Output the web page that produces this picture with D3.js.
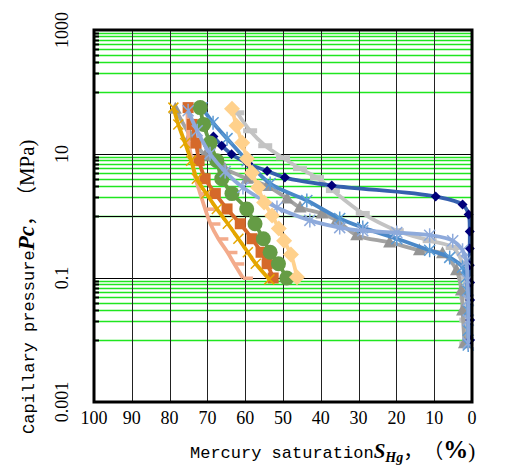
<!DOCTYPE html>
<html>
<head>
<meta charset="utf-8">
<script src="https://cdn.jsdelivr.net/npm/d3@7"></script>
<style>
  html, body { margin: 0; padding: 0; background: #fff; }
  svg { display: block; }
  svg text { text-spacing-trim: space-all; }
</style>
</head>
<body>
<svg id="chart" width="511" height="468"></svg>
<script>
// Mercury injection capillary pressure curves: saturation (%) vs pressure (MPa)
const xTicks = [100, 90, 80, 70, 60, 50, 40, 30, 20, 10, 0];
const yTickLabels = [1000, 10, 0.1, 0.001];
const yLabelText = ["1000", "10", "0.1", "0.001"];

// pressure steps shared by several samples
const stepP = [56, 30, 15, 7.8, 4, 2.3, 1.3, 0.75, 0.43, 0.26, 0.17, 0.1];

const navyS = [68.4, 66.2, 63.6, 59.2, 54.2, 49.5, 37.1, 9.6, 2.5, 0.9, 0.6, 0.6, 0.6, 0.5, 0.5, 0.5, 0.5];
const navyP = [19.2, 13.6, 9.9, 7.0, 5.3, 4.16, 3.1, 2.06, 1.53, 1.06, 0.56, 0.30, 0.16, 0.085, 0.044, 0.021, 0.010];

const steelS = [71.4, 68.5, 64.8, 59.5, 53.4, 43.7, 35.0, 28.9, 19.9, 11.2, 5.9, 2.5, 1.5, 1.2, 1.0, 1.0, 1.0];
const steelP = [55.6, 31.9, 17.7, 7.8, 3.33, 1.78, 0.91, 0.65, 0.43, 0.28, 0.215, 0.149, 0.103, 0.063, 0.030, 0.0144, 0.0083];

const grayS = [78.5, 74.5, 70.6, 65.4, 59.5, 54.2, 48.9, 45.5, 39.7, 35.8, 30.5, 21.8, 13.9, 7.8, 4.1, 2.8, 2.5, 2.0];
const grayP = [53.6, 19.7, 9.4, 5.8, 4.0, 3.04, 1.91, 1.37, 1.10, 0.85, 0.49, 0.375, 0.28, 0.25, 0.133, 0.063, 0.030, 0.0089];

const silverS = [62.1, 58.7, 54.7, 50.0, 45.5, 41.0, 36.8, 28.9, 19.9, 11.2, 5.1, 2.5, 2.0, 1.5, 1.5, 1.5];
const silverP = [46.2, 23.7, 13.6, 8.7, 5.8, 4.16, 2.57, 1.10, 0.58, 0.40, 0.31, 0.172, 0.103, 0.049, 0.021, 0.0089];

const paleBlueS = [75.1, 72.7, 69.3, 65.3, 60.6, 51.6, 42.9, 35.0, 28.9, 19.9, 11.2, 5.1, 2.5, 1.5, 1.2, 1.0, 1.0, 1.0];
const paleBlueP = [49.8, 23.7, 10.1, 5.2, 2.88, 1.37, 0.85, 0.65, 0.58, 0.54, 0.49, 0.40, 0.28, 0.19, 0.092, 0.044, 0.021, 0.0089];

const goldS = [79.0, 77.7, 75.9, 74.3, 72.8, 70.3, 67.5, 64.6, 61.8, 59.3, 57.2, 53.6];
const goldP = [56, 30, 15, 7.8, 4, 2.3, 1.3, 0.75, 0.43, 0.26, 0.17, 0.095];

const salmonS = [75.3, 75.2, 74.9, 74.1, 73.1, 71.9, 70.6, 69.2, 67.1, 64.7, 62.9, 60.6];
const orangeS = [75.1, 74.0, 73.0, 72.2, 70.6, 67.9, 64.8, 61.3, 58.2, 55.8, 54.2, 52.6];
const greenS = [71.9, 71.0, 69.3, 67.5, 66.2, 63.5, 59.6, 57.4, 55.2, 53.4, 51.2, 49.0];

const peachS = [63.5, 62.3, 60.8, 59.5, 58.2, 56.6, 55.0, 52.9, 51.1, 49.7, 47.9, 46.3];
const peachP = [53.6, 28.6, 15.2, 8.4, 5.0, 2.88, 1.65, 1.02, 0.63, 0.40, 0.24, 0.103];

const svg = d3.select("#chart");
const plotL = 94, plotR = 472, plotT = 30, plotB = 402;

const x = d3.scaleLinear().domain([100, 0]).range([plotL, plotR]);
const y = d3.scaleLog().domain([0.001, 1000]).range([plotB, plotT]);

// ---- grid ----
const grid = svg.append("g");
// green minor lines in alternating decades
const greenVals = [];
[2, 0, -2].forEach(e => { for (let k = 1; k <= 9; k++) greenVals.push(k * Math.pow(10, e)); });
grid.selectAll("line.minor").data(greenVals).join("line")
  .attr("x1", plotL).attr("x2", plotR)
  .attr("y1", d => Math.round(y(d)) + 0.5).attr("y2", d => Math.round(y(d)) + 0.5)
  .attr("stroke", "#1fe61f").attr("stroke-width", 1.3);
// black major lines
grid.selectAll("line.major").data([10, 1, 0.1]).join("line")
  .attr("x1", plotL).attr("x2", plotR)
  .attr("y1", d => Math.round(y(d)) + 0.5).attr("y2", d => Math.round(y(d)) + 0.5)
  .attr("stroke", "#000").attr("stroke-width", 1);
// vertical lines
grid.selectAll("line.v").data(xTicks.slice(1, -1)).join("line")
  .attr("x1", d => Math.round(x(d)) + 0.5).attr("x2", d => Math.round(x(d)) + 0.5)
  .attr("y1", plotT).attr("y2", plotB)
  .attr("stroke", "#222").attr("stroke-width", 1);

// ---- series ----
const series = [
  { s: silverS, p: silverP, line: "#c3c3c3", mark: "dashWide", color: "#c3c3c3" },
  { s: grayS, p: grayP, line: "#a3a3a3", mark: "triangle", color: "#959595" },
  { s: steelS, p: steelP, line: "#4a88c8", mark: "asterisk", color: "#5b9bd5" },
  { s: navyS, p: navyP, line: "#3560ae", mark: "diamondSmall", color: "#00007a" },
  { s: salmonS, p: stepP, line: "#f3ab8b", mark: "dash", color: "#f3ab8b" },
  { s: orangeS, p: stepP, line: "#d5692a", mark: "square", color: "#d5692a" },
  { s: goldS, p: goldP, line: "#e4a600", mark: "x", color: "#e4a600" },
  { s: greenS, p: stepP, line: "#659c45", mark: "circle", color: "#659c45" },
  { s: paleBlueS, p: paleBlueP, line: "#8eaadb", mark: "asterisk", color: "#8eaadb" },
  { s: peachS, p: peachP, line: "#ffd18c", mark: "diamond", color: "#ffd18c" }
];

const line = d3.line().x(d => x(d[0])).y(d => y(d[1])).curve(d3.curveCatmullRom.alpha(0.5));
const plot = svg.append("g");

function drawMarker(g, kind, color) {
  switch (kind) {
    case "circle":
      g.append("circle").attr("r", 7.5).attr("fill", color); break;
    case "square":
      g.append("rect").attr("x", -5.5).attr("y", -5.5).attr("width", 11).attr("height", 11).attr("fill", color); break;
    case "diamond":
      g.append("path").attr("d", "M0,-8L8,0L0,8L-8,0Z").attr("fill", color); break;
    case "diamondSmall":
      g.append("path").attr("d", "M0,-5L5,0L0,5L-5,0Z").attr("fill", color); break;
    case "triangle":
      g.append("path").attr("d", "M0,-7L6.5,5L-6.5,5Z").attr("fill", color); break;
    case "dash":
      g.append("rect").attr("x", 0).attr("y", -1.5).attr("width", 10).attr("height", 3.5).attr("fill", color); break;
    case "dashWide":
      g.append("rect").attr("x", -7).attr("y", -2.5).attr("width", 14).attr("height", 5).attr("fill", color); break;
    case "x":
      g.append("path").attr("d", "M-5,-5L5,5M-5,5L5,-5").attr("stroke", color).attr("stroke-width", 1.5); break;
    case "asterisk":
      g.append("path").attr("d", "M-5.5,-5.5L5.5,5.5M-5.5,5.5L5.5,-5.5M0,-7L0,7").attr("stroke", color).attr("stroke-width", 1.5); break;
  }
}

series.forEach(sr => {
  const pts = sr.s.map((v, i) => [v, sr.p[i]]);
  const g = plot.append("g");
  g.append("path").attr("d", line(pts)).attr("fill", "none")
    .attr("stroke", sr.line).attr("stroke-width", 3.8).attr("stroke-linejoin", "round");
  pts.forEach(pt => {
    const m = g.append("g").attr("transform", `translate(${x(pt[0])},${y(pt[1])})`);
    drawMarker(m, sr.mark, sr.color);
  });
});

// ---- frame and ticks ----
svg.append("rect").attr("x", plotL).attr("y", plotT).attr("width", plotR - plotL).attr("height", plotB - plotT)
  .attr("fill", "none").attr("stroke", "#000").attr("stroke-width", 3);
svg.selectAll("line.tick").data(greenVals).join("line")
  .attr("x1", plotL).attr("x2", plotL + 5)
  .attr("y1", d => Math.round(y(d)) + 0.5).attr("y2", d => Math.round(y(d)) + 0.5)
  .attr("stroke", "#000").attr("stroke-width", 2);

// ---- axis labels ----
const serif = "'Liberation Serif', 'Times New Roman', serif";
const mono = "'Liberation Mono', 'DejaVu Sans Mono', monospace";
const cjk = "'Noto Sans CJK SC', sans-serif";

svg.append("g").selectAll("text").data(xTicks).join("text")
  .attr("x", d => x(d)).attr("y", 424)
  .attr("text-anchor", "middle")
  .attr("font-family", serif).attr("font-size", 18)
  .text(d => d);

svg.append("g").selectAll("text").data(yTickLabels).join("text")
  .attr("transform", d => `translate(68,${y(d)}) rotate(-90)`)
  .attr("text-anchor", "middle")
  .attr("font-family", serif).attr("font-size", 18)
  .text((d, i) => yLabelText[i]);

const xt = svg.append("text").attr("x", 190).attr("y", 458).attr("font-size", 17);
xt.append("tspan").attr("font-family", mono).text("Mercury saturation");
xt.append("tspan").attr("font-family", serif).attr("font-weight", "bold").attr("font-style", "italic").attr("font-size", 21).text("S");
xt.append("tspan").attr("font-family", serif).attr("font-weight", "bold").attr("font-style", "italic").attr("font-size", 14).attr("dy", 4).text("Hg");
xt.append("tspan").attr("font-family", cjk).attr("font-size", 20).attr("dy", -4).text("，");
xt.append("tspan").attr("font-family", cjk).attr("font-size", 20).text("（");
xt.append("tspan").attr("font-family", serif).attr("font-weight", "bold").attr("font-size", 25).text("%");
xt.append("tspan").attr("font-family", serif).attr("font-size", 21).text(")");

const yt = svg.append("text").attr("transform", "translate(34,434) rotate(-90)").attr("font-size", 17);
yt.append("tspan").attr("font-family", mono).text("Capillary pressure");
yt.append("tspan").attr("font-family", serif).attr("font-weight", "bold").attr("font-style", "italic").attr("font-size", 23).text("Pc");
yt.append("tspan").attr("font-family", cjk).attr("font-size", 20).text("，");
yt.append("tspan").attr("font-family", cjk).attr("font-size", 20).text("（");
yt.append("tspan").attr("font-family", serif).attr("font-size", 21).text("MPa)");
</script>
</body>
</html>
